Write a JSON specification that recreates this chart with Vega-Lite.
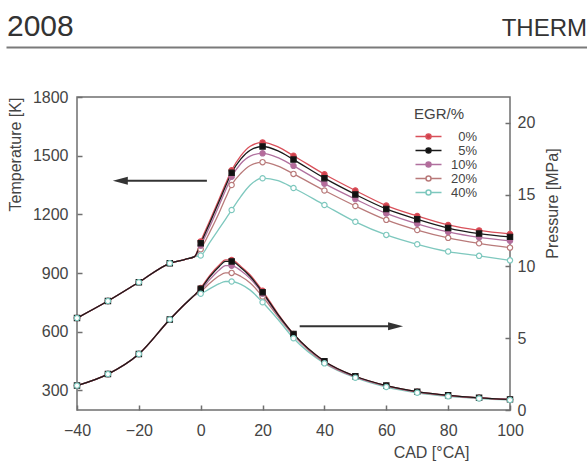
{
  "$schema": "https://vega.github.io/schema/vega-lite/v6.json",
  "background": "white",
  "padding": {"left": 6, "top": 0, "right": 0, "bottom": 0},
  "config": {
    "font": "Liberation Sans",
    "view": {"stroke": null},
    "axis": {
      "domain": false, "grid": false, "labelFlush": false,
      "labelFont": "Liberation Sans", "labelFontSize": 16, "labelColor": "#444",
      "titleFont": "Liberation Sans", "titleFontSize": 16, "titleFontWeight": "normal", "titleColor": "#444",
      "tickColor": "#6f6f6f", "tickSize": -5, "tickWidth": 1.5
    },
    "legend": {"titleFont": "Liberation Sans", "labelFont": "Liberation Sans"}
  },
  "bounds": "flush",
  "spacing": 50,
  "datasets": {
    "engine": [
      {"egr":"40%","cad":-40,"temp":670,"pres":1.7},{"egr":"40%","cad":-30,"temp":757,"pres":2.5},{"egr":"40%","cad":-20,"temp":853,"pres":3.9},{"egr":"40%","cad":-10,"temp":950,"pres":6.3},{"egr":"40%","cad":-5,"temp":970,"pres":7.4},{"egr":"40%","cad":-2,"temp":984,"pres":8.0},
      {"egr":"40%","cad":0,"temp":990,"pres":8.1},{"egr":"40%","cad":3,"temp":1058,"pres":8.45},{"egr":"40%","cad":6,"temp":1128,"pres":8.8},{"egr":"40%","cad":8,"temp":1175,"pres":8.95},{"egr":"40%","cad":10,"temp":1222,"pres":8.95},{"egr":"40%","cad":13,"temp":1292,"pres":8.75},{"egr":"40%","cad":16,"temp":1350,"pres":8.35},{"egr":"40%","cad":20,"temp":1385,"pres":7.5},{"egr":"40%","cad":25,"temp":1372,"pres":6.3},{"egr":"40%","cad":30,"temp":1335,"pres":5.0},{"egr":"40%","cad":40,"temp":1248,"pres":3.25},{"egr":"40%","cad":50,"temp":1162,"pres":2.25},{"egr":"40%","cad":60,"temp":1095,"pres":1.6},{"egr":"40%","cad":70,"temp":1047,"pres":1.2},{"egr":"40%","cad":80,"temp":1010,"pres":0.95},{"egr":"40%","cad":90,"temp":988,"pres":0.8},{"egr":"40%","cad":100,"temp":965,"pres":0.7},

      {"egr":"20%","cad":-40,"temp":670,"pres":1.7},{"egr":"20%","cad":-30,"temp":757,"pres":2.5},{"egr":"20%","cad":-20,"temp":853,"pres":3.9},{"egr":"20%","cad":-10,"temp":950,"pres":6.3},{"egr":"20%","cad":-5,"temp":970,"pres":7.4},{"egr":"20%","cad":-2,"temp":984,"pres":8.0},
      {"egr":"20%","cad":0,"temp":1022,"pres":8.25},{"egr":"20%","cad":3,"temp":1112,"pres":8.85},{"egr":"20%","cad":6,"temp":1210,"pres":9.35},{"egr":"20%","cad":8,"temp":1282,"pres":9.55},{"egr":"20%","cad":10,"temp":1350,"pres":9.55},{"egr":"20%","cad":13,"temp":1410,"pres":9.3},{"egr":"20%","cad":16,"temp":1450,"pres":8.85},{"egr":"20%","cad":20,"temp":1467,"pres":7.9},{"egr":"20%","cad":25,"temp":1447,"pres":6.5},{"egr":"20%","cad":30,"temp":1407,"pres":5.2},{"egr":"20%","cad":40,"temp":1322,"pres":3.3},{"egr":"20%","cad":50,"temp":1243,"pres":2.3},{"egr":"20%","cad":60,"temp":1172,"pres":1.66},{"egr":"20%","cad":70,"temp":1120,"pres":1.25},{"egr":"20%","cad":80,"temp":1080,"pres":0.99},{"egr":"20%","cad":90,"temp":1052,"pres":0.83},{"egr":"20%","cad":100,"temp":1030,"pres":0.72},

      {"egr":"10%","cad":-40,"temp":670,"pres":1.7},{"egr":"10%","cad":-30,"temp":757,"pres":2.5},{"egr":"10%","cad":-20,"temp":853,"pres":3.9},{"egr":"10%","cad":-10,"temp":950,"pres":6.3},{"egr":"10%","cad":-5,"temp":970,"pres":7.4},{"egr":"10%","cad":-2,"temp":984,"pres":8.0},
      {"egr":"10%","cad":0,"temp":1040,"pres":8.35},{"egr":"10%","cad":3,"temp":1140,"pres":9.1},{"egr":"10%","cad":6,"temp":1248,"pres":9.75},{"egr":"10%","cad":8,"temp":1322,"pres":10.05},{"egr":"10%","cad":10,"temp":1392,"pres":10.05},{"egr":"10%","cad":13,"temp":1460,"pres":9.7},{"egr":"10%","cad":16,"temp":1498,"pres":9.15},{"egr":"10%","cad":20,"temp":1512,"pres":8.1},{"egr":"10%","cad":25,"temp":1490,"pres":6.6},{"egr":"10%","cad":30,"temp":1448,"pres":5.25},{"egr":"10%","cad":40,"temp":1357,"pres":3.35},{"egr":"10%","cad":50,"temp":1278,"pres":2.3},{"egr":"10%","cad":60,"temp":1205,"pres":1.68},{"egr":"10%","cad":70,"temp":1152,"pres":1.26},{"egr":"10%","cad":80,"temp":1110,"pres":1.0},{"egr":"10%","cad":90,"temp":1082,"pres":0.84},{"egr":"10%","cad":100,"temp":1065,"pres":0.73},

      {"egr":"0%","cad":-40,"temp":670,"pres":1.7},{"egr":"0%","cad":-30,"temp":757,"pres":2.5},{"egr":"0%","cad":-20,"temp":853,"pres":3.9},{"egr":"0%","cad":-10,"temp":950,"pres":6.3},{"egr":"0%","cad":-5,"temp":970,"pres":7.4},{"egr":"0%","cad":-2,"temp":984,"pres":8.0},
      {"egr":"0%","cad":0,"temp":1062,"pres":8.5},{"egr":"0%","cad":3,"temp":1170,"pres":9.4},{"egr":"0%","cad":6,"temp":1280,"pres":10.1},{"egr":"0%","cad":8,"temp":1355,"pres":10.45},{"egr":"0%","cad":10,"temp":1425,"pres":10.45},{"egr":"0%","cad":13,"temp":1500,"pres":10.0},{"egr":"0%","cad":16,"temp":1548,"pres":9.4},{"egr":"0%","cad":20,"temp":1568,"pres":8.3},{"egr":"0%","cad":25,"temp":1545,"pres":6.7},{"egr":"0%","cad":30,"temp":1500,"pres":5.3},{"egr":"0%","cad":40,"temp":1405,"pres":3.4},{"egr":"0%","cad":50,"temp":1322,"pres":2.35},{"egr":"0%","cad":60,"temp":1245,"pres":1.7},{"egr":"0%","cad":70,"temp":1192,"pres":1.28},{"egr":"0%","cad":80,"temp":1146,"pres":1.02},{"egr":"0%","cad":90,"temp":1118,"pres":0.85},{"egr":"0%","cad":100,"temp":1100,"pres":0.74},

      {"egr":"5%","cad":-40,"temp":670,"pres":1.7},{"egr":"5%","cad":-30,"temp":757,"pres":2.5},{"egr":"5%","cad":-20,"temp":853,"pres":3.9},{"egr":"5%","cad":-10,"temp":950,"pres":6.3},{"egr":"5%","cad":-5,"temp":970,"pres":7.4},{"egr":"5%","cad":-2,"temp":984,"pres":8.0},
      {"egr":"5%","cad":0,"temp":1052,"pres":8.45},{"egr":"5%","cad":3,"temp":1158,"pres":9.3},{"egr":"5%","cad":6,"temp":1268,"pres":10.0},{"egr":"5%","cad":8,"temp":1343,"pres":10.35},{"egr":"5%","cad":10,"temp":1413,"pres":10.35},{"egr":"5%","cad":13,"temp":1484,"pres":9.9},{"egr":"5%","cad":16,"temp":1528,"pres":9.3},{"egr":"5%","cad":20,"temp":1547,"pres":8.2},{"egr":"5%","cad":25,"temp":1525,"pres":6.65},{"egr":"5%","cad":30,"temp":1480,"pres":5.3},{"egr":"5%","cad":40,"temp":1385,"pres":3.4},{"egr":"5%","cad":50,"temp":1302,"pres":2.35},{"egr":"5%","cad":60,"temp":1228,"pres":1.7},{"egr":"5%","cad":70,"temp":1175,"pres":1.28},{"egr":"5%","cad":80,"temp":1130,"pres":1.02},{"egr":"5%","cad":90,"temp":1102,"pres":0.85},{"egr":"5%","cad":100,"temp":1085,"pres":0.74}
    ],
    "arrows": [
      {"from": 2, "to": -26, "temp": 1372, "dir": "left"},
      {"from": 32, "to": 63, "temp": 628, "dir": "right"}
    ]
  },
  "vconcat": [
    {
      "width": 433,
      "height": 47,
      "data": {"values": [{"label": "2008"}, {"label": "THERM"}]},
      "encoding": {
        "x": {
          "field": "label", "type": "nominal",
          "scale": {"type": "point", "domain": ["2008", "THERM"], "range": [-71, 510], "padding": 0},
          "axis": {"title": null, "labels": false, "ticks": false, "domain": true, "domainColor": "#7a7a7a", "domainWidth": 2}
        },
        "text": {"field": "label"}
      },
      "layer": [
        {
          "transform": [{"filter": "datum.label == '2008'"}],
          "mark": {"type": "text", "align": "left", "baseline": "alphabetic", "fontSize": 30, "dx": 1, "dy": 12, "color": "#333"}
        },
        {
          "transform": [{"filter": "datum.label == 'THERM'"}],
          "mark": {"type": "text", "align": "right", "baseline": "alphabetic", "fontSize": 24, "dy": 12, "color": "#333"}
        }
      ]
    },
    {
      "width": 433,
      "height": 313,
      "view": {"stroke": "#6f6f6f", "strokeWidth": 1.5},
      "layer": [
        {
          "layer": [
            {
              "data": {"name": "engine"},
              "mark": {"type": "line", "interpolate": "monotone", "strokeWidth": 1.3},
              "encoding": {
                "x": {"field": "cad", "type": "quantitative", "scale": {"domain": [-40, 100], "nice": false},
                      "axis": {"values": [-40, -20, 0, 20, 40, 60, 80, 100], "title": "CAD [°CA]", "titleX": 354, "titleY": 47, "titleAlign": "center", "titleBaseline": "alphabetic", "labelPadding": 17}},
                "y": {"field": "temp", "type": "quantitative", "scale": {"domain": [200, 1800], "nice": false},
                      "axis": {"orient": "left", "values": [300, 600, 900, 1200, 1500, 1800], "format": "d", "title": "Temperature [K]", "titleX": -62, "titleY": 57, "titleAngle": 270, "titleAlign": "center", "titleBaseline": "middle", "labelPadding": 14}},
                "stroke": {"field": "egr", "type": "nominal",
                           "scale": {"domain": ["0%", "5%", "10%", "20%", "40%"], "range": ["#d9505a", "#1a1a1a", "#b0709e", "#b97a7a", "#7ec8be"]},
                           "legend": {"orient": "none", "legendX": 337, "legendY": 107, "title": "EGR/%", "titleFontSize": 15, "titleFontWeight": "normal", "titleColor": "#444", "titlePadding": 8,
                                      "labelFontSize": 13, "labelColor": "#444", "labelAlign": "right", "labelOffset": 42,
                                      "symbolType": "M-2.6,0H-0.5M0.5,0H2.6M0.5,0A0.5,0.5,0,1,1,-0.5,0A0.5,0.5,0,1,1,0.5,0",
                                      "symbolSize": 100, "symbolStrokeWidth": 1.5, "symbolOffset": 8, "rowPadding": 0}},
                "detail": {"field": "egr"}
              }
            },
            {
              "data": {"name": "engine"},
              "transform": [{"filter": "datum.cad % 10 == 0 && datum.egr != '40%'"}],
              "mark": {"type": "point", "filled": true, "size": 28, "strokeWidth": 1.2, "opacity": 1},
              "encoding": {
                "x": {"field": "cad", "type": "quantitative", "scale": {"domain": [-40, 100], "nice": false}},
                "y": {"field": "temp", "type": "quantitative", "scale": {"domain": [200, 1800], "nice": false}},
                "stroke": {"field": "egr", "type": "nominal"},
                "fill": {"field": "egr", "type": "nominal",
                         "scale": {"domain": ["0%", "5%", "10%", "20%", "40%"], "range": ["#d0404c", "#111111", "#b66a9a", "#ffffff", "#ffffff"]},
                         "legend": {"orient": "none", "legendX": 337, "legendY": 107, "title": "EGR/%", "titleFontSize": 15, "titleFontWeight": "normal", "titleColor": "#444", "titlePadding": 8,
                                    "labelFontSize": 13, "labelColor": "#444", "labelAlign": "right", "labelOffset": 42,
                                    "symbolType": "M-2.6,0H-0.5M0.5,0H2.6M0.5,0A0.5,0.5,0,1,1,-0.5,0A0.5,0.5,0,1,1,0.5,0",
                                    "symbolSize": 100, "symbolStrokeWidth": 1.5, "symbolOffset": 8, "rowPadding": 0}},
                "shape": {"condition": {"test": "datum.egr == '5%'", "value": "square"}, "value": "circle"}
              }
            },
            {
              "data": {"name": "engine"},
              "transform": [{"filter": "datum.cad % 10 == 0 && datum.egr == '40%'"}],
              "mark": {"type": "point", "filled": true, "size": 28, "strokeWidth": 1.2, "opacity": 1, "shape": "circle"},
              "encoding": {
                "x": {"field": "cad", "type": "quantitative", "scale": {"domain": [-40, 100], "nice": false}},
                "y": {"field": "temp", "type": "quantitative", "scale": {"domain": [200, 1800], "nice": false}},
                "stroke": {"field": "egr", "type": "nominal"},
                "fill": {"field": "egr", "type": "nominal"}
              }
            },
            {
              "data": {"name": "arrows"},
              "mark": {"type": "rule", "color": "#333", "strokeWidth": 2},
              "encoding": {
                "x": {"field": "from", "type": "quantitative", "scale": {"domain": [-40, 100], "nice": false}},
                "x2": {"field": "to"},
                "y": {"field": "temp", "type": "quantitative", "scale": {"domain": [200, 1800], "nice": false}}
              }
            },
            {
              "data": {"name": "arrows"},
              "mark": {"type": "point", "filled": true, "size": 100, "color": "#333", "opacity": 1, "strokeWidth": 0},
              "encoding": {
                "x": {"field": "to", "type": "quantitative", "scale": {"domain": [-40, 100], "nice": false}},
                "y": {"field": "temp", "type": "quantitative", "scale": {"domain": [200, 1800], "nice": false}},
                "shape": {"condition": {"test": "datum.dir == 'left'", "value": "M1.5,-0.8L-1.5,0L1.5,0.8Z"}, "value": "M-1.5,-0.8L1.5,0L-1.5,0.8Z"}
              }
            }
          ]
        },
        {
          "layer": [
            {
              "data": {"name": "engine"},
              "mark": {"type": "line", "interpolate": "monotone", "strokeWidth": 1.3},
              "encoding": {
                "x": {"field": "cad", "type": "quantitative", "scale": {"domain": [-40, 100], "nice": false}},
                "y": {"field": "pres", "type": "quantitative", "scale": {"domain": [0, 21.8], "nice": false},
                      "axis": {"orient": "right", "values": [0, 5, 10, 15, 20], "format": "d", "title": "Pressure [MPa]", "titleX": 42, "titleY": 106, "titleAngle": 270, "titleAlign": "center", "titleBaseline": "middle", "labelPadding": 12}},
                "stroke": {"field": "egr", "type": "nominal"},
                "detail": {"field": "egr"}
              }
            },
            {
              "data": {"name": "engine"},
              "transform": [{"filter": "datum.cad % 10 == 0 && datum.egr != '40%'"}],
              "mark": {"type": "point", "filled": true, "size": 28, "strokeWidth": 1.2, "opacity": 1},
              "encoding": {
                "x": {"field": "cad", "type": "quantitative", "scale": {"domain": [-40, 100], "nice": false}},
                "y": {"field": "pres", "type": "quantitative", "scale": {"domain": [0, 21.8], "nice": false}},
                "stroke": {"field": "egr", "type": "nominal"},
                "fill": {"field": "egr", "type": "nominal"},
                "shape": {"condition": {"test": "datum.egr == '5%'", "value": "square"}, "value": "circle"}
              }
            },
            {
              "data": {"name": "engine"},
              "transform": [{"filter": "datum.cad % 10 == 0 && datum.egr == '40%'"}],
              "mark": {"type": "point", "filled": true, "size": 28, "strokeWidth": 1.2, "opacity": 1, "shape": "circle"},
              "encoding": {
                "x": {"field": "cad", "type": "quantitative", "scale": {"domain": [-40, 100], "nice": false}},
                "y": {"field": "pres", "type": "quantitative", "scale": {"domain": [0, 21.8], "nice": false}},
                "stroke": {"field": "egr", "type": "nominal"},
                "fill": {"field": "egr", "type": "nominal"}
              }
            }
          ]
        }
      ],
      "resolve": {"scale": {"y": "independent"}}
    }
  ]
}
